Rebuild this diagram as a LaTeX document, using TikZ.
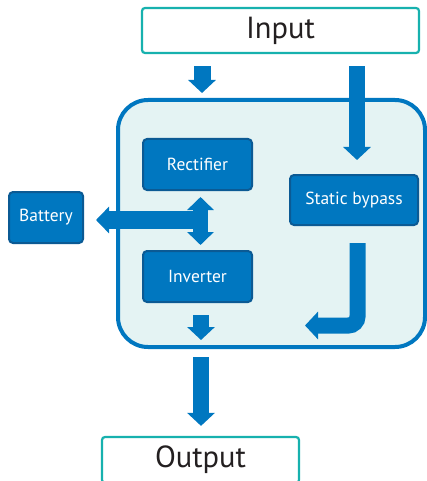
\documentclass[tikz,border=0pt]{standalone}
\usepackage{fontspec}
\setmainfont{PT Sans}
\usetikzlibrary{arrows.meta}
\definecolor{upsblue}{HTML}{0077C0}
\definecolor{upsdark}{HTML}{0B5A94}
\definecolor{upsteal}{HTML}{17B1AE}
\definecolor{upsbg}{HTML}{E4F3F3}
\definecolor{upstext}{HTML}{231F20}
\tikzset{
  iobox/.style={draw=upsteal, line width=2.2pt, rounded corners=3pt, fill=white, inner sep=0pt, text=upstext, font=\fontsize{30.5}{33}\selectfont},
  unitbox/.style={draw=upsdark, line width=2pt, rounded corners=4pt, fill=upsblue, inner sep=0pt, text=white, font=\fontsize{17.5}{20}\selectfont},
  blockarrow/.style={draw=upsblue, line width=#1, line cap=butt, -{Triangle[length=13pt 0 0, width=27pt 0 0]}},
  blockarrow/.default=16pt,
  dblarrow/.style={draw=upsblue, line width=15pt, line cap=butt, {Triangle[length=13pt 0 0, width=26pt 0 0]}-{Triangle[length=13pt 0 0, width=26pt 0 0]}}
}
\begin{document}
\begin{tikzpicture}[x=1pt,y=-1pt]
\useasboundingbox (0,0) rectangle (427,481);
\begin{scope}
\clip (0,0) rectangle (427,481);
% enclosure
\draw[draw=upsblue, fill=upsbg, line width=4pt, rounded corners=30pt] (118,100) rectangle (425,347);
\node[iobox, minimum width=277pt, minimum height=45pt] (input) at (280.5,30.5) {Input};
\node[iobox, minimum width=197pt, minimum height=46pt] (output) at (200.5,460) {Output};
\end{scope}
\node[unitbox, minimum width=109pt, minimum height=51pt] (rect) at (197.5,164.5) {Rectifier};
\node[unitbox, minimum width=109pt, minimum height=51pt] (inv) at (197.5,276.5) {Inverter};
\node[unitbox, minimum width=128pt, minimum height=50pt] (bypass) at (354,200) {Static bypass};
\node[unitbox, minimum width=74pt, minimum height=51pt] (batt) at (46,217.5) {Battery};

% coordinates for connector ends
\coordinate (a1s) at ([yshift=-12pt]input.south -| 202,0);
\coordinate (a1e) at (202,93);
\coordinate (a2s) at ([yshift=-12pt]input.south -| 357,0);
\coordinate (a2e) at ([yshift=14pt]bypass.north -| 357,0);
\coordinate (dbt) at ([yshift=-6pt]rect.south -| 200.5,0);
\coordinate (dbb) at ([yshift=5pt]inv.north -| 200.5,0);
\coordinate (bj) at (200,220);
\coordinate (bt) at ([xshift=12pt]batt.east |- 0,220);
\coordinate (os) at ([yshift=-12pt]inv.south -| 201,0);
\coordinate (oe) at (201,340);
\coordinate (rs) at ([yshift=-17pt]bypass.south -| 357.5,0);
\coordinate (rc) at (357.5,325.5);
\coordinate (re) at (305,325.5);
\coordinate (bs) at (201,357);
\coordinate (be) at ([yshift=10pt]output.north -| 201,0);

\draw[blockarrow=17pt] (a1s) -- (a1e);
\draw[blockarrow] (a2s) -- (a2e);
\draw[dblarrow] (dbt) -- (dbb);
\draw[draw=upsblue, line width=18pt, line cap=butt, -{Triangle[length=13pt 0 0, width=26pt 0 0]}] (bj) -- (bt);
\draw[blockarrow] (os) -- (oe);
\draw[blockarrow, rounded corners=9pt] (rs) -- (rc) -- (re);
\draw[blockarrow] (bs) -- (be);
\end{tikzpicture}
\end{document}
